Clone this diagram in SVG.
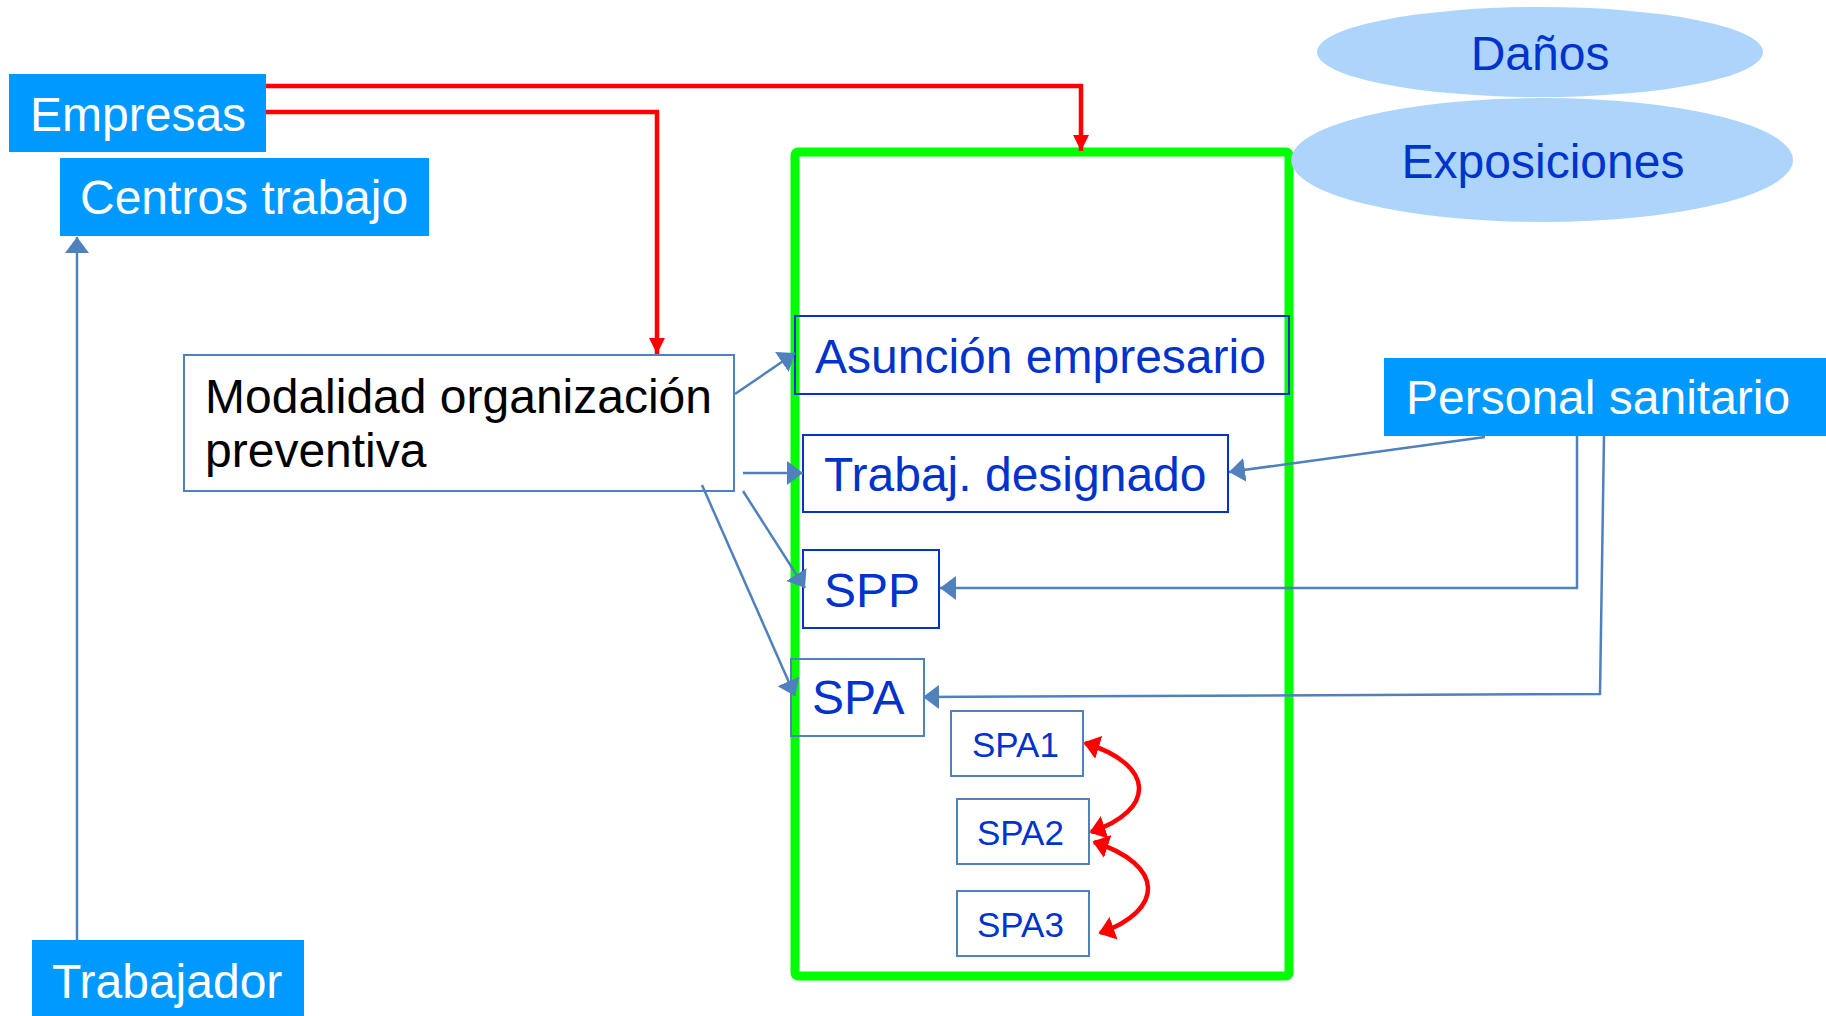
<svg xmlns="http://www.w3.org/2000/svg" width="1826" height="1016" viewBox="0 0 1826 1016">
<style>
text{font-family:"Liberation Sans",Arial,sans-serif;font-size:48px}
.solid{fill:#0099FF}
.wt{fill:#FFFFFF}
.bt{fill:#0033CC}
.dk{fill:none;stroke:#0033CC;stroke-width:2}
.lt{fill:none;stroke:#4F81BD;stroke-width:2}
.bl{fill:none;stroke:#4F81BD;stroke-width:2.5}
.rd{fill:none;stroke:#FF0000;stroke-width:4.5}
.ell{fill:#ADD4FB}
</style>
<defs>
<marker id="ab" viewBox="0 0 10 10" refX="10" refY="5" markerUnits="userSpaceOnUse" markerWidth="16" markerHeight="24" orient="auto" preserveAspectRatio="none"><path d="M0,0 L10,5 L0,10 z" fill="#4F81BD"/></marker>
<marker id="ar" viewBox="0 0 10 10" refX="10" refY="5" markerUnits="userSpaceOnUse" markerWidth="16" markerHeight="16" orient="auto" preserveAspectRatio="none"><path d="M0,0 L10,5 L0,10 z" fill="#FF0000"/></marker>
<marker id="ar2" viewBox="0 0 10 10" refX="9" refY="5" markerUnits="userSpaceOnUse" markerWidth="16" markerHeight="24" orient="auto-start-reverse" preserveAspectRatio="none"><path d="M0,0 L10,5 L0,10 z" fill="#FF0000"/></marker>
</defs>

<g id="frame">
<rect x="795" y="152" width="494" height="824" rx="3" fill="none" stroke="#00FF00" stroke-width="9"/>
</g>

<g id="danos">
<ellipse class="ell" cx="1540" cy="52" rx="223" ry="45"/>
<text class="bt" x="1540" y="70" text-anchor="middle">Daños</text>
</g>
<g id="exposiciones">
<ellipse class="ell" cx="1542" cy="160" rx="251" ry="62"/>
<text class="bt" x="1543" y="178" text-anchor="middle">Exposiciones</text>
</g>

<g id="empresas">
<rect class="solid" x="9" y="74" width="257" height="78"/>
<text class="wt" x="30" y="131">Empresas</text>
</g>
<g id="centros">
<rect class="solid" x="60" y="158" width="369" height="78"/>
<text class="wt" x="80" y="214">Centros trabajo</text>
</g>
<g id="trabajador">
<rect class="solid" x="32" y="940" width="272" height="76"/>
<text class="wt" x="52" y="998">Trabajador</text>
</g>
<g id="personal">
<rect class="solid" x="1384" y="358" width="442" height="78"/>
<text class="wt" x="1406" y="414">Personal sanitario</text>
</g>

<g id="modalidad">
<rect class="lt" x="184" y="355" width="550" height="136" fill="#FFFFFF"/>
<text x="205" y="413" fill="#000000">Modalidad organización</text>
<text x="205" y="467" fill="#000000">preventiva</text>
</g>

<g id="asuncion">
<rect class="dk" x="795" y="316" width="494" height="78"/>
<text class="bt" x="815" y="373">Asunción empresario</text>
</g>
<g id="trabaj">
<rect class="dk" x="803" y="435" width="425" height="77"/>
<text class="bt" x="824" y="491">Trabaj. designado</text>
</g>
<g id="spp">
<rect class="dk" x="803" y="550" width="136" height="78"/>
<text class="bt" x="824" y="607">SPP</text>
</g>
<g id="spa">
<rect class="lt" x="791" y="659" width="133" height="77"/>
<text class="bt" x="812" y="714">SPA</text>
</g>
<g id="spa1">
<rect class="lt" x="951" y="711" width="132" height="65"/>
<text class="bt" x="972" y="757" style="font-size:35px">SPA1</text>
</g>
<g id="spa2">
<rect class="lt" x="957" y="799" width="132" height="65"/>
<text class="bt" x="977" y="845" style="font-size:35px">SPA2</text>
</g>
<g id="spa3">
<rect class="lt" x="957" y="891" width="132" height="65"/>
<text class="bt" x="977" y="937" style="font-size:35px">SPA3</text>
</g>

<g id="connectors">
<path class="rd" d="M266,86 H1081 V151" marker-end="url(#ar)"/>
<path class="rd" d="M266,112 H657 V354" marker-end="url(#ar)"/>
<path class="bl" d="M77,940 V237" marker-end="url(#ab)"/>
<path class="bl" d="M735,394 L795,353" marker-end="url(#ab)"/>
<path class="bl" d="M743,473 H803" marker-end="url(#ab)"/>
<path class="bl" d="M743,491 L805,588" marker-end="url(#ab)"/>
<path class="bl" d="M702,485 L795,696" marker-end="url(#ab)"/>
<path class="bl" d="M1485,437 L1229,472" marker-end="url(#ab)"/>
<path class="bl" d="M1577,436 V588 H940" marker-end="url(#ab)"/>
<path class="bl" d="M1604,436 L1600,694 L923,697" marker-end="url(#ab)"/>
<path class="rd" d="M1085,743 C1156,765 1156,810 1091,832" marker-start="url(#ar2)" marker-end="url(#ar2)"/>
<path class="rd" d="M1094,842 C1165,865 1165,910 1100,933" marker-start="url(#ar2)" marker-end="url(#ar2)"/>
</g>
</svg>
